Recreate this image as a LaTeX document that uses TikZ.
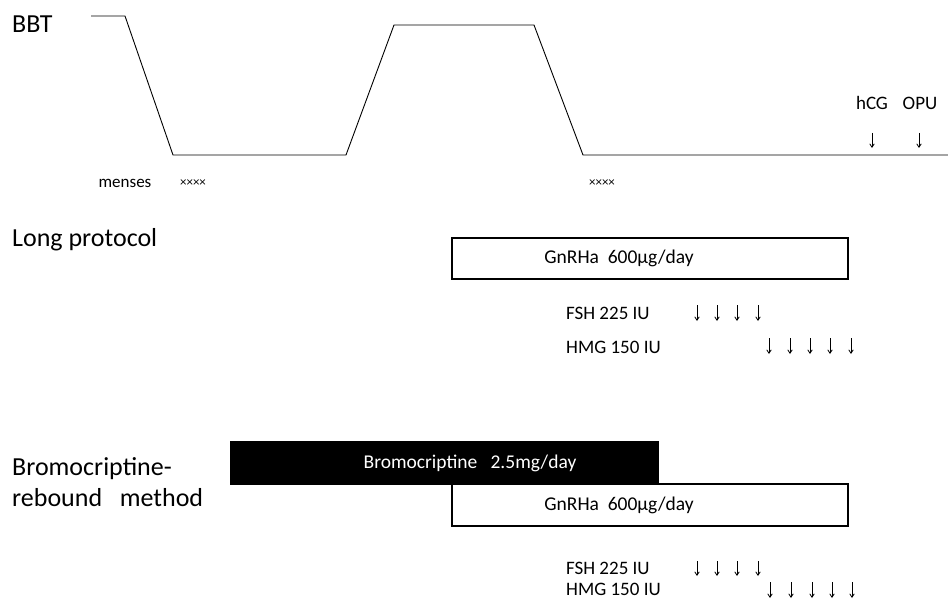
\documentclass[tikz,border=0pt]{standalone}
\usepackage{fontspec}
\setmainfont{Carlito}
\usepackage{tikz}
\usetikzlibrary{arrows.meta}
\tikzset{>={Straight Barb[length=3.5pt,width=4.5pt]}}
\tikzstyle{biglabel}=[anchor=west,inner sep=0,font=\fontsize{26}{30}\selectfont]
\tikzstyle{druglabel}=[anchor=west,inner sep=0,font=\fontsize{19}{22}\selectfont]
\tikzstyle{drugbox}=[draw,line width=2.4pt,inner sep=0]
\tikzstyle{dose}=[->,line width=0.8pt]
\newcommand{\gnrhabox}[2]{%
 \draw[drugbox] (452,#1) rectangle (848,#2);
 \node[font=\fontsize{19.5}{22}\selectfont] at (619,{(#1+#2)/2}) {GnRHa\ \ 600\textmu g/day};}
\begin{document}
\begin{tikzpicture}[x=1pt,y=-1pt]
 \useasboundingbox (0,0) rectangle (948,599);
 % basal body temperature
 \node[biglabel] (bbt) at (12,24) {BBT};
 \draw[line width=0.9pt] (91,16) -- (125,16) -- (173,155) -- (346,155)
  -- (394,25) -- (534,25) -- (583,155) -- (948,155);
 \node[font=\fontsize{17}{19}\selectfont] (menses) at (125,183) {menses};
 \node[font=\fontsize{13}{15}\selectfont] (cross1) at (193,183) {××××};
 \node[font=\fontsize{13}{15}\selectfont] (cross2) at (602,183) {××××};
 \node[font=\fontsize{19}{22}\selectfont] (hcg) at (872,103) {hCG};
 \node[font=\fontsize{19}{22}\selectfont] (opu) at (920,103) {OPU};
 \foreach \X in {872,919}
  \draw[dose] (\X,133) -- (\X,148);
 %
 % long protocol
 \node[biglabel] (long) at (12,240) {Long protocol};
 \gnrhabox{238}{279}
 \node[druglabel] (fsh1) at (566,313) {FSH 225 IU};
 \node[druglabel] (hmg1) at (566,347) {HMG 150 IU};
 \foreach \X in {697,717,737,758}
  \draw[dose] (\X,305) -- (\X,321);
 \foreach \X in {769,790,810,830,851}
  \draw[dose] (\X,338) -- (\X,354);
 %
 % bromocriptine-rebound method
 \node[biglabel] (brom) at (12,469) {Bromocriptine-};
 \node[biglabel] (rebound) at (12,498) {rebound\ \ \ method};
 \fill (230,441) rectangle (659,485);
 \node[font=\fontsize{19.5}{22}\selectfont,text=white] (bromtext) at (470,463) {Bromocriptine\ \ \ 2.5mg/day};
 \gnrhabox{484}{526}
 \node[druglabel] (fsh2) at (566,568) {FSH 225 IU};
 \node[druglabel] (hmg2) at (566,589) {HMG 150 IU};
 \foreach \X in {697,717,737,758}
  \draw[dose] (\X,561) -- (\X,576);
 \foreach \X in {770,791,812,832,852}
  \draw[dose] (\X,582) -- (\X,598);
\end{tikzpicture}
\end{document}
